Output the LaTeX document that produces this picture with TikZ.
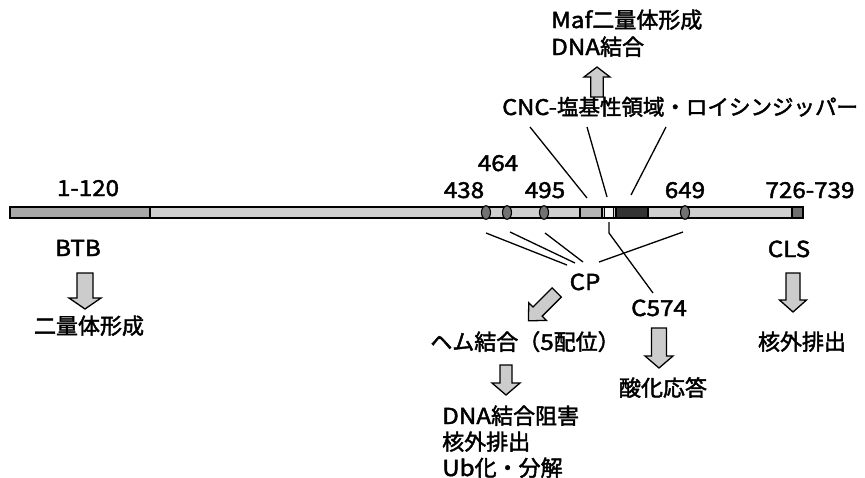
\documentclass[tikz,border=0pt]{standalone}
\usepackage{fontspec}
\setmainfont{Noto Sans CJK JP}[FakeBold=2]
\newfontfamily\latf{Noto Sans CJK JP}[FakeStretch=1.1,FakeBold=2]
\newcommand\lat[1]{{\latf #1}}
\definecolor{barlight}{HTML}{CFCFCF}
\definecolor{btbgray}{HTML}{A8A8A8}
\definecolor{midgray}{HTML}{B4B4B4}
\definecolor{whitebox}{HTML}{F4F4F4}
\definecolor{darkbox}{HTML}{333333}
\definecolor{endgray}{HTML}{707070}
\definecolor{ovalgray}{HTML}{727272}
\definecolor{arrowfill}{HTML}{CCCCCC}
\newcommand\blkarrow[7]{%
 \draw[blk, shift={(#1,#2)}, rotate=#3] (-#5,0) -- (-#5,#4-#7) -- (-#6,#4-#7) -- (0,#4) -- (#6,#4-#7) -- (#5,#4-#7) -- (#5,0) -- cycle;}
\begin{document}
\begin{tikzpicture}[x=1pt,y=-1pt,
  lbl/.style={inner sep=0pt, font=\fontsize{22}{26}\selectfont},
  barline/.style={draw=black, line width=1.4pt},
  conn/.style={draw=black, line width=1.3pt},
  blk/.style={draw=black, line width=1.3pt, fill=arrowfill, line join=miter}]
\useasboundingbox (0,0) rectangle (865,477);
% bar
\draw[barline, fill=barlight] (10,207) rectangle (803,218);
\draw[barline, fill=btbgray] (10,207) rectangle (150,218);
\draw[barline, fill=midgray] (580,207) rectangle (602,218);
\draw[barline, fill=whitebox] (604.5,207) rectangle (613.5,218);
\draw[barline, fill=darkbox] (616,207) rectangle (648,218);
\draw[barline, fill=endgray] (792,207) rectangle (803,218);
\foreach \x in {486,507,544,685}
  \draw[barline, line width=1.1pt, fill=ovalgray] (\x,212.5) ellipse [x radius=4.5, y radius=6.8];
% labels
\node[lbl, anchor=base west] (maf) at (551,28) {\lat{Maf}二量体形成};
\node[lbl, anchor=base west] (dna1) at (551,55) {\lat{DNA}結合};
\node[lbl, anchor=base west, font=\fontsize{21.5}{26}\selectfont] (cnc) at (502,115) {\lat{CNC-}塩基性領域・ロイシンジッパー};
\node[lbl, anchor=base] (n1120) at (88,196) {\lat{1-120}};
\node[lbl, anchor=base] (n464) at (498,171) {\lat{464}};
\node[lbl, anchor=base] (n438) at (464,198) {\lat{438}};
\node[lbl, anchor=base] (n495) at (545,198) {\lat{495}};
\node[lbl, anchor=base] (n649) at (685,198) {\lat{649}};
\node[lbl, anchor=base] (n726) at (810,198) {\lat{726-739}};
\node[lbl, anchor=base] (btb) at (78,256) {\lat{BTB}};
\node[lbl, anchor=base] (dimer) at (89,334) {二量体形成};
\node[lbl, anchor=base] (cls) at (789,257) {\lat{CLS}};
\node[lbl, anchor=base] (export) at (802,350) {核外排出};
\node[lbl, anchor=base] (cp) at (585,290) {\lat{CP}};
\node[lbl, anchor=base] (heme) at (525,350) {ヘム結合（\lat{5}配位）};
\node[lbl, anchor=base] (c574) at (659,316) {\lat{C574}};
\node[lbl, anchor=base] (ox) at (663,396) {酸化応答};
\node[lbl, anchor=base west] (r1) at (442,424) {\lat{DNA}結合阻害};
\node[lbl, anchor=base west] (r2) at (442,450) {核外排出};
\node[lbl, anchor=base west] (r3) at (442,476) {\lat{Ub}化・分解};
% connector points
\coordinate (cncA) at (530,127); \coordinate (bzA) at (587,198);
\coordinate (cncB) at (587,127); \coordinate (bzB) at (607,197);
\coordinate (cncC) at (666,127); \coordinate (bzC) at (631,195);
\coordinate (p438) at (486,233); \coordinate (cp438) at (567,265);
\coordinate (p464) at (510,232); \coordinate (cp464) at (575,263);
\coordinate (p495) at (545,233); \coordinate (cp495) at (583,262);
\coordinate (p649) at (683,232); \coordinate (cp649) at (599,262);
\coordinate (c574a) at (609,222); \coordinate (c574b) at (609,233); \coordinate (c574c) at (653,293);
\draw[conn] (cncA) -- (bzA);
\draw[conn] (cncB) -- (bzB);
\draw[conn] (cncC) -- (bzC);
\draw[conn] (p438) -- (cp438);
\draw[conn] (p464) -- (cp464);
\draw[conn] (p495) -- (cp495);
\draw[conn] (p649) -- (cp649);
\draw[conn] (c574a) -- (c574b) -- (c574c);
% block arrows: x, y(tail), rotate, length, half shaft, half head, head length
\blkarrow{597}{97}{180}{30}{6.3}{13}{10}
\blkarrow{85}{273}{0}{36}{8}{16}{11}
\blkarrow{793}{273}{0}{39}{7}{13.5}{12}
\blkarrow{659}{328}{0}{40}{7.5}{14}{12}
\blkarrow{506}{365}{0}{30}{6}{14}{12}
\blkarrow{556.7}{292.5}{-45}{40}{6.5}{12.5}{13}
\end{tikzpicture}
\end{document}
